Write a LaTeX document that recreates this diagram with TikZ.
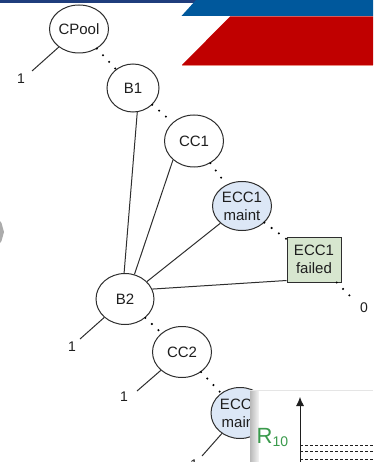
\documentclass[tikz,border=0pt]{standalone}
\usepackage{fontspec}
\setmainfont{Liberation Sans}
\usetikzlibrary{shapes.geometric,arrows.meta,calc}

\definecolor{navyband}{HTML}{1F3D7C}
\definecolor{blueband}{HTML}{00589C}
\definecolor{redband}{HTML}{C00000}
\definecolor{redline}{HTML}{E98A80}
\definecolor{edgegray}{HTML}{2E2E2E}
\definecolor{textdark}{HTML}{1E1E1E}
\definecolor{maintblue}{HTML}{DCE7F6}
\definecolor{failgreen}{HTML}{D7E6CF}
\definecolor{rgreen}{HTML}{3A9A4C}

\newcommand\dgnodefont{\fontsize{15}{18}\selectfont}
\newcommand\dgtagfont{\fontsize{14}{14}\selectfont}

\begin{document}
\begin{tikzpicture}[x=1pt,y=-1pt,
  statenode/.style={ellipse, draw=edgegray, line width=1pt, fill=white,
    minimum width=58pt, minimum height=50pt, inner sep=0pt,
    font=\dgnodefont, text=textdark, align=center},
  maintnode/.style={statenode, fill=maintblue},
  failnode/.style={rectangle, draw=edgegray, line width=1pt, fill=failgreen,
    minimum width=54pt, minimum height=45pt, inner sep=0pt,
    font=\dgnodefont, text=textdark, align=center},
  link/.style={draw=edgegray, line width=1pt},
  dotlink/.style={draw=black, line width=2.3pt, line cap=round,
    dash pattern=on 0pt off 9pt},
  tag/.style={font=\dgtagfont, text=textdark, inner sep=0pt},
  levelline/.style={draw=textdark, line width=0.7pt, dash pattern=on 3pt off 2pt}
]
\useasboundingbox (0,0) rectangle (373,462);

% header bands
\fill[navyband] (0,0) rectangle (196,3);
\fill[blueband] (181.5,16) -- (196,0) -- (373,0) -- (373,16) -- cycle;
\fill[redband] (182,65) -- (230,16.5) -- (373,16.5) -- (373,65) -- cycle;
\draw[redline, line width=0.8pt] (182,65.4) -- (373,65.4);

% side marker
\fill[gray!65] (0,221) -- (1.5,223) -- (4,232) -- (1.5,241) -- (0,243) -- cycle;

% states
\node[statenode, minimum width=59pt, minimum height=48pt] (cpool) at (79,29) {CPool};
\node[statenode, minimum width=52pt, minimum height=48pt] (b1) at (133,88) {B1};
\node[statenode, minimum width=59pt, minimum height=52pt] (cc1) at (194,141) {CC1};
\node[maintnode, minimum width=59pt, minimum height=49pt] (m1) at (242,206) {ECC1\\maint};
\node[failnode] (f1) at (314,259.5) {ECC1\\failed};
\node[statenode, minimum width=58pt, minimum height=51pt] (b2) at (125,299) {B2};
\node[statenode, minimum width=59pt, minimum height=51pt] (cc2) at (182,352) {CC2};
\node[maintnode, minimum width=58pt, minimum height=51pt] (m2) at (240,413) {ECC2\\maint};

% free ends of the absorbing branches
\coordinate (e0) at (32,71);
\coordinate (e1) at (80,339);
\coordinate (e2) at (137,391);
\coordinate (e3) at (202,456);
\coordinate (z0) at (355,301);

\node[tag] (t0) at (21,79) {1};
\node[tag] (t1) at (72,347) {1};
\node[tag] (t2) at (124,397) {1};
\node[tag] (t3) at (194,465) {1};
\node[tag] (tz) at (364,308) {0};

% solid transitions
\draw[link] (cpool) -- (e0);
\draw[link] (b2) -- (e1);
\draw[link] (cc2) -- (e2);
\draw[link] (m2) -- (e3);
\draw[link] (b1.280) -- (b2.92);
\draw[link] (cc1.222) -- (b2.69);
\draw[link] (m1) -- (b2);
\draw[link] ($(f1.south west)+(0,-2)$) -- (b2.20);

% dotted chain
\draw[dotlink] (cpool) -- (b1);
\draw[dotlink] (b1) -- (cc1);
\draw[dotlink] (cc1) -- (m1);
\draw[dotlink] (m1) -- (f1);
\draw[dotlink] (f1) -- (z0);
\draw[dotlink] (b2) -- (cc2);
\draw[dotlink] (cc2) -- (m2);

% inset panel with level plot
\shade[left color=gray!55, right color=gray!8] (250,390) rectangle (259,462);
\fill[white] (259,390) rectangle (373,462);
\draw[gray!20, line width=0.5pt] (250,390) -- (373,390);

\coordinate (axb) at (300,462);
\coordinate (axt) at (300,397);
\draw[textdark, line width=0.8pt, -{Latex[length=9pt,width=8pt]}] (axb) -- (axt);

\coordinate (l1a) at (300,445); \coordinate (l1b) at (373,445);
\coordinate (l2a) at (300,451); \coordinate (l2b) at (373,451);
\coordinate (l3a) at (300,459.5); \coordinate (l3b) at (373,459.5);
\draw[levelline] (l1a) -- (l1b);
\draw[levelline] (l2a) -- (l2b);
\draw[levelline] (l3a) -- (l3b);

\node[anchor=base west, inner sep=0pt, text=rgreen] (rlabel) at (256.5,443)
  {\fontsize{22}{22}\selectfont R\raisebox{-3pt}{\fontsize{14}{14}\selectfont 10}};
\end{tikzpicture}
\end{document}
